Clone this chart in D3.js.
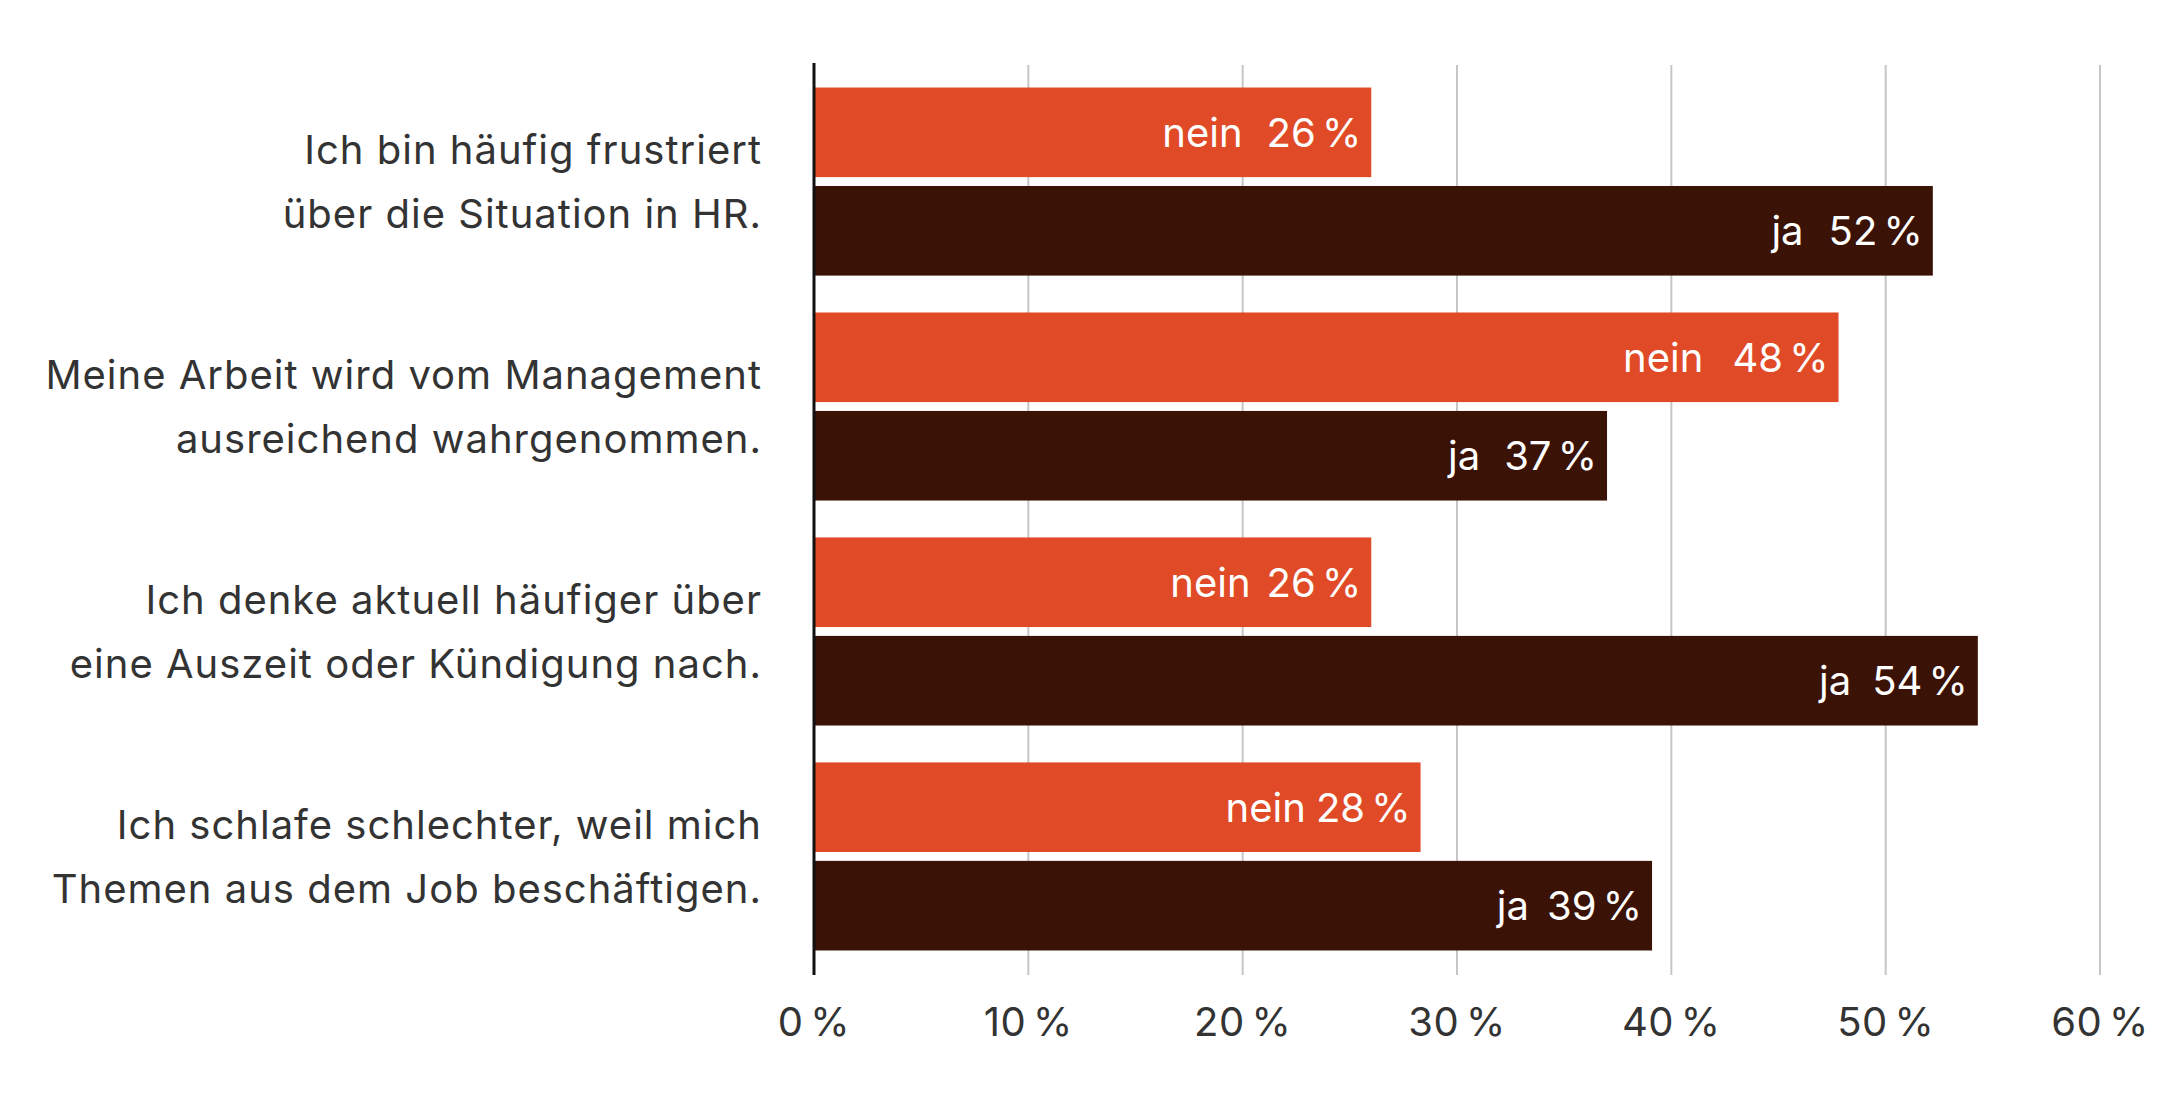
<!DOCTYPE html>
<html>
<head>
<meta charset="utf-8">
<script src="https://cdn.jsdelivr.net/npm/d3@7"></script>
<style>
    body { margin: 0; background: #fff; }
    svg text { font-family: Inter, "Noto Sans", sans-serif; }
</style>
</head>
<body>
<div id="chart"></div>
<script>
// Survey statements (two lines each) and share of answers in percent
const statements = [
    ['Ich bin häufig frustriert', 'über die Situation in HR.'],
    ['Meine Arbeit wird vom Management', 'ausreichend wahrgenommen.'],
    ['Ich denke aktuell häufiger über', 'eine Auszeit oder Kündigung nach.'],
    ['Ich schlafe schlechter, weil mich', 'Themen aus dem Job beschäftigen.']
];
const series = ['nein', 'ja'];
const neinValues = [26, 47.8, 26, 28.3];
const jaValues = [52.2, 37, 54.3, 39.1];
const xTicks = [0, 10, 20, 30, 40, 50, 60];

const width = 2162;
const height = 1102;
const colors = { nein: '#e04a27', ja: '#3a1206' };
// gap between the series name and the value inside each bar (px)
const labelGaps = { nein: [24, 29, 16, 10], ja: [25, 24, 21, 18] };
const fontSize = 40;

const svg = d3.select('#chart').append('svg')
    .attr('width', width)
    .attr('height', height);

const x = d3.scaleLinear().domain([0, 60]).range([814, 2100]);

const y0 = d3.scaleBand()
    .domain(d3.range(statements.length))
    .range([63, 975])
    .paddingInner(0.164)
    .paddingOuter(0.109);

const y1 = d3.scaleBand()
    .domain(series)
    .range([0, y0.bandwidth()])
    .paddingInner(0.09);

// gridlines
svg.append('g')
    .selectAll('line')
    .data(xTicks.slice(1))
    .join('line')
    .attr('x1', d => x(d))
    .attr('x2', d => x(d))
    .attr('y1', 65)
    .attr('y2', 975)
    .attr('stroke', '#c6c6c6')
    .attr('stroke-width', 2);

const rows = statements.map((s, i) => ({
    i,
    bars: [
        { key: 'nein', value: neinValues[i], gap: labelGaps.nein[i] },
        { key: 'ja', value: jaValues[i], gap: labelGaps.ja[i] }
    ]
}));

const group = svg.append('g')
    .selectAll('g')
    .data(rows)
    .join('g')
    .attr('transform', d => `translate(0,${y0(d.i)})`);

group.selectAll('rect')
    .data(d => d.bars)
    .join('rect')
    .attr('x', x(0))
    .attr('y', d => y1(d.key))
    .attr('width', d => x(d.value) - x(0))
    .attr('height', y1.bandwidth())
    .attr('fill', d => colors[d.key]);

const valueLabels = group.selectAll('text.val')
    .data(d => d.bars)
    .join('text')
    .attr('class', 'val')
    .attr('x', d => x(d.value) - 10)
    .attr('y', d => y1(d.key) + y1.bandwidth() / 2 + 14.5)
    .attr('text-anchor', 'end')
    .attr('fill', '#fff')
    .attr('font-size', fontSize)
    .attr('word-spacing', -5);

valueLabels.append('tspan').text(d => d.key);
valueLabels.append('tspan')
    .attr('dx', d => d.gap)
    .text(d => Math.round(d.value) + ' %');

// statement labels
const labels = svg.append('g')
    .selectAll('text')
    .data(statements)
    .join('text')
    .attr('text-anchor', 'end')
    .attr('fill', '#333')
    .attr('font-size', fontSize)
    .attr('letter-spacing', 1);

labels.selectAll('tspan')
    .data((d, i) => d.map((line, j) => ({ line, j, i })))
    .join('tspan')
    .attr('x', 762)
    .attr('y', d => y0(d.i) + y0.bandwidth() / 2 + (d.j === 0 ? -31.75 : 31.75) + 14.5)
    .text(d => d.line);

// zero axis line
svg.append('line')
    .attr('x1', x(0))
    .attr('x2', x(0))
    .attr('y1', 63)
    .attr('y2', 975)
    .attr('stroke', '#111')
    .attr('stroke-width', 3);

// x tick labels
svg.append('g')
    .selectAll('text')
    .data(xTicks)
    .join('text')
    .attr('x', d => x(d))
    .attr('y', 1036)
    .attr('text-anchor', 'middle')
    .attr('fill', '#333')
    .attr('font-size', fontSize)
    .attr('letter-spacing', 0.5)
    .attr('word-spacing', -5)
    .text(d => d + ' %');
</script>
</body>
</html>
